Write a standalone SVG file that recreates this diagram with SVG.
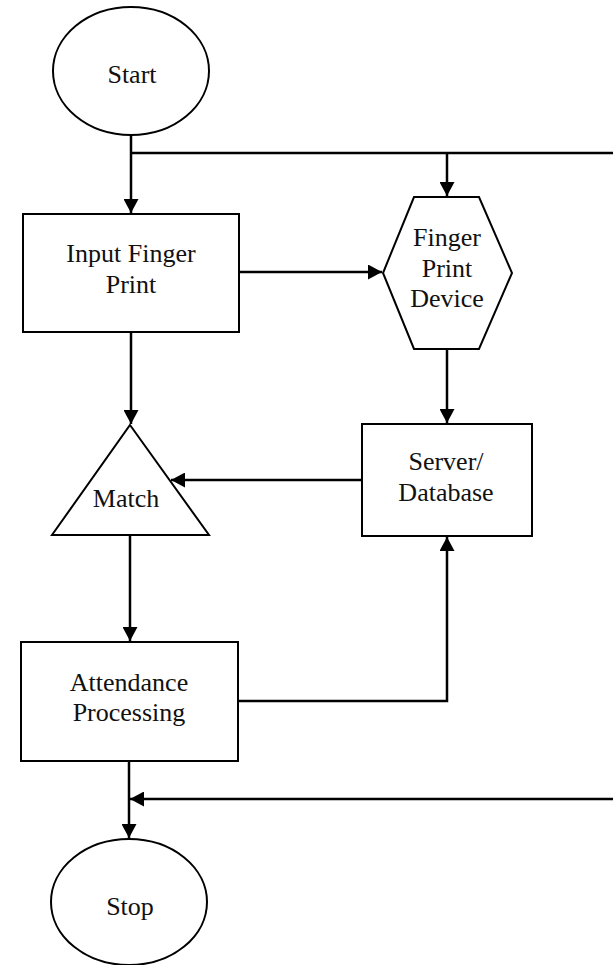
<svg xmlns="http://www.w3.org/2000/svg" width="613" height="965" viewBox="0 0 613 965">
<style>
.shape{fill:#fff;stroke:#000;stroke-width:2}
.lbl{font-family:"Liberation Serif","Times New Roman",serif;font-size:26px;fill:#111;text-anchor:middle}
.conn{fill:none;stroke:#000;stroke-width:2.5}
</style>
<defs>
<marker id="ah" markerUnits="userSpaceOnUse" markerWidth="15" markerHeight="15" refX="14" refY="7.5" orient="auto" viewBox="0 0 15 15">
<path d="M0,0 L14,7.5 L0,15 z" fill="#000"/>
</marker>
</defs>
<rect width="613" height="965" fill="#fff"/>
<g id="connectors">
<path class="conn" d="M131,134 V213" marker-end="url(#ah)"/>
<path class="conn" d="M131,153 H613"/>
<path class="conn" d="M447,153 V196" marker-end="url(#ah)"/>
<path class="conn" d="M239,272 H382" marker-end="url(#ah)"/>
<path class="conn" d="M131,332 V424" marker-end="url(#ah)"/>
<path class="conn" d="M447,349 V423" marker-end="url(#ah)"/>
<path class="conn" d="M362,480 H171" marker-end="url(#ah)"/>
<path class="conn" d="M130,535 V641" marker-end="url(#ah)"/>
<path class="conn" d="M238,701 H447 V537" marker-end="url(#ah)"/>
<path class="conn" d="M129,761 V838" marker-end="url(#ah)"/>
<path class="conn" d="M613,799 H130" marker-end="url(#ah)"/>
</g>
<g id="start">
<ellipse class="shape" cx="131" cy="71" rx="78" ry="64"/>
<text class="lbl" x="132" y="83">Start</text>
</g>
<g id="input">
<rect class="shape" x="23" y="214" width="216" height="118"/>
<text class="lbl" x="131" y="262">Input Finger</text>
<text class="lbl" x="131" y="293">Print</text>
</g>
<g id="device">
<polygon class="shape" points="414,197 479,197 512,273 479,349 414,349 383,273"/>
<text class="lbl" x="447" y="246">Finger</text>
<text class="lbl" x="447" y="277">Print</text>
<text class="lbl" x="447" y="307">Device</text>
</g>
<g id="server">
<rect class="shape" x="362" y="424" width="170" height="112"/>
<text class="lbl" x="446" y="470">Server/</text>
<text class="lbl" x="446" y="501">Database</text>
</g>
<g id="match">
<polygon class="shape" points="130,425 209,535 52,535"/>
<text class="lbl" x="126" y="507">Match</text>
</g>
<g id="attendance">
<rect class="shape" x="21" y="642" width="217" height="119"/>
<text class="lbl" x="129" y="691">Attendance</text>
<text class="lbl" x="129" y="721">Processing</text>
</g>
<g id="stop">
<ellipse class="shape" cx="129" cy="902" rx="78" ry="63"/>
<text class="lbl" x="130" y="915">Stop</text>
</g>
</svg>
